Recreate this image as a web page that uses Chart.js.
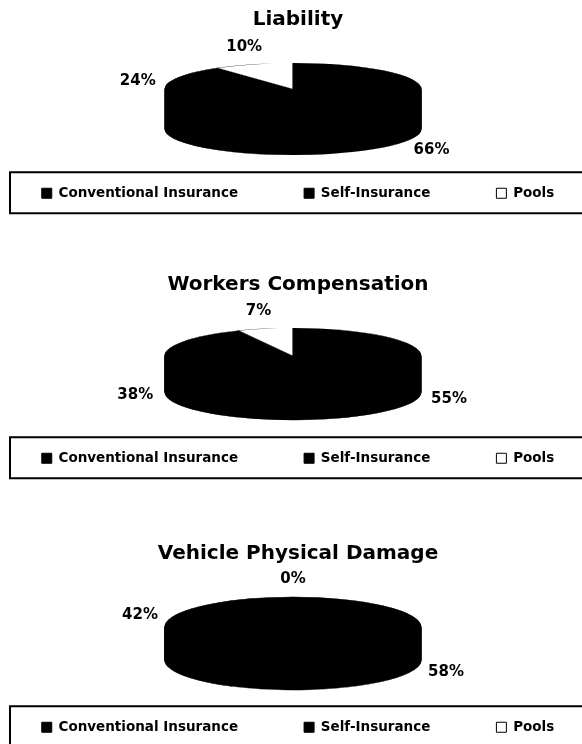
<!DOCTYPE html>
<html>
<head>
<meta charset="utf-8">
<script src="https://cdn.jsdelivr.net/npm/chart.js@4"></script>
<style>
  html, body { margin: 0; padding: 0; background: #fff; overflow: hidden; }
  .box { position: absolute; left: 0; width: 582px; height: 265px; }
  canvas { display: block; }
</style>
</head>
<body>
<div class="box" style="top:0px"><canvas id="chart_liability" width="582" height="265"></canvas></div>
<div class="box" style="top:265px"><canvas id="chart_workers" width="582" height="265"></canvas></div>
<div class="box" style="top:534px"><canvas id="chart_vehicle" width="582" height="265"></canvas></div>
<script>
  const categories = ['Conventional Insurance', 'Self-Insurance', 'Pools'];
  const liabilityShares = [66, 24, 10];
  const workersCompShares = [55, 38, 7];
  const vehicleDamageShares = [58, 42, 0];
  const chartTitles = ['Liability', 'Workers Compensation', 'Vehicle Physical Damage'];
  const sliceColors = ['#000000', '#000000', '#ffffff'];

  Chart.defaults.font.family = '"DejaVu Sans", sans-serif';
  Chart.defaults.color = '#000';

  // ellipse placement of the tilted pie (px in the canvas)
  const PIE_X = 293;
  const PIE_RX = 128;

  function pieFrame(chart, opts) {
    const arc = chart.getDatasetMeta(0).data[0];
    const p = arc.getProps(['x', 'y', 'outerRadius'], true);
    return {
      x: p.x, y: p.y, r: p.outerRadius,
      ey: chart.chartArea.top + opts.ry
    };
  }

  function squash(ctx, f, opts) {
    const s = PIE_RX / f.r;
    ctx.translate(PIE_X, f.ey);
    ctx.scale(s, s * opts.ry / PIE_RX);
    ctx.translate(-f.x, -f.y);
  }

  // draws the slices as a flat 3d disc: side layers first, then the top
  const pie3d = {
    id: 'pie3d',
    beforeDatasetsDraw(chart, args, opts) {
      const ctx = chart.ctx;
      const meta = chart.getDatasetMeta(0);
      const f = pieFrame(chart, opts);
      for (let d = opts.depth; d > 0; d--) {
        ctx.save();
        ctx.translate(0, d);
        squash(ctx, f, opts);
        meta.data.forEach(a => a.draw(ctx));
        ctx.restore();
      }
      ctx.save();
      squash(ctx, f, opts);
    },
    afterDatasetsDraw(chart, args, opts) {
      const ctx = chart.ctx;
      ctx.restore();

      // percent labels outside the disc
      const meta = chart.getDatasetMeta(0);
      const values = chart.data.datasets[0].data;
      const total = values.reduce((a, b) => a + b, 0);
      const f = pieFrame(chart, opts);
      ctx.save();
      ctx.font = 'bold 15px "DejaVu Sans"';
      ctx.fillStyle = '#000';
      ctx.textAlign = 'center';
      ctx.textBaseline = 'middle';
      meta.data.forEach((arc, i) => {
        const p = arc.getProps(['startAngle', 'endAngle'], true);
        const a = (p.startAngle + p.endAngle) / 2;
        const c = Math.cos(a), s = Math.sin(a);
        let x = PIE_X + PIE_RX * c + 30 * c;
        let y = f.ey + opts.ry * s + (s > 0 ? opts.depth : 0) + 18 * s;
        ctx.fillText(Math.round(values[i] / total * 100) + '%', x, y);
      });
      ctx.restore();
    }
  };

  // frame round the legend row
  const legendFrame = {
    id: 'legendFrame',
    afterDraw(chart) {
      const hb = chart.legend.legendHitBoxes[0];
      const cy = hb.top + hb.height / 2;
      const ctx = chart.ctx;
      ctx.save();
      ctx.lineWidth = 2;
      ctx.strokeStyle = '#000';
      ctx.strokeRect(10, cy - 21, chart.width + 20, 41);
      ctx.restore();
    }
  };

  function makePie(id, title, values, tilt) {
    return new Chart(document.getElementById(id), {
      type: 'pie',
      data: {
        labels: categories,
        datasets: [{
          data: values,
          backgroundColor: sliceColors,
          borderColor: '#000',
          borderWidth: 0.25,
          clip: false
        }]
      },
      options: {
        responsive: false,
        animation: false,
        events: [],
        // wider than the canvas so the three legend items stay on one row
        layout: { padding: { left: -30, right: -44, bottom: 55 } },
        plugins: {
          title: {
            display: true,
            text: title,
            font: { size: 20, weight: 'bold' },
            padding: { top: 8, bottom: 31 }
          },
          legend: {
            position: 'bottom',
            labels: {
              boxWidth: 10,
              boxHeight: 10,
              padding: 66,
              font: { size: 13.5, weight: 'bold' },
              generateLabels: chart =>
                Chart.overrides.pie.plugins.legend.labels.generateLabels(chart)
                  .map(l => ({ ...l, strokeStyle: '#000', lineWidth: 1 }))
            }
          },
          tooltip: { enabled: false },
          pie3d: tilt
        }
      },
      plugins: [pie3d, legendFrame]
    });
  }

  makePie('chart_liability', chartTitles[0], liabilityShares, { ry: 26, depth: 40 });
  makePie('chart_workers', chartTitles[1], workersCompShares, { ry: 28, depth: 36 });
  makePie('chart_vehicle', chartTitles[2], vehicleDamageShares, { ry: 30, depth: 33 });
</script>
</body>
</html>
